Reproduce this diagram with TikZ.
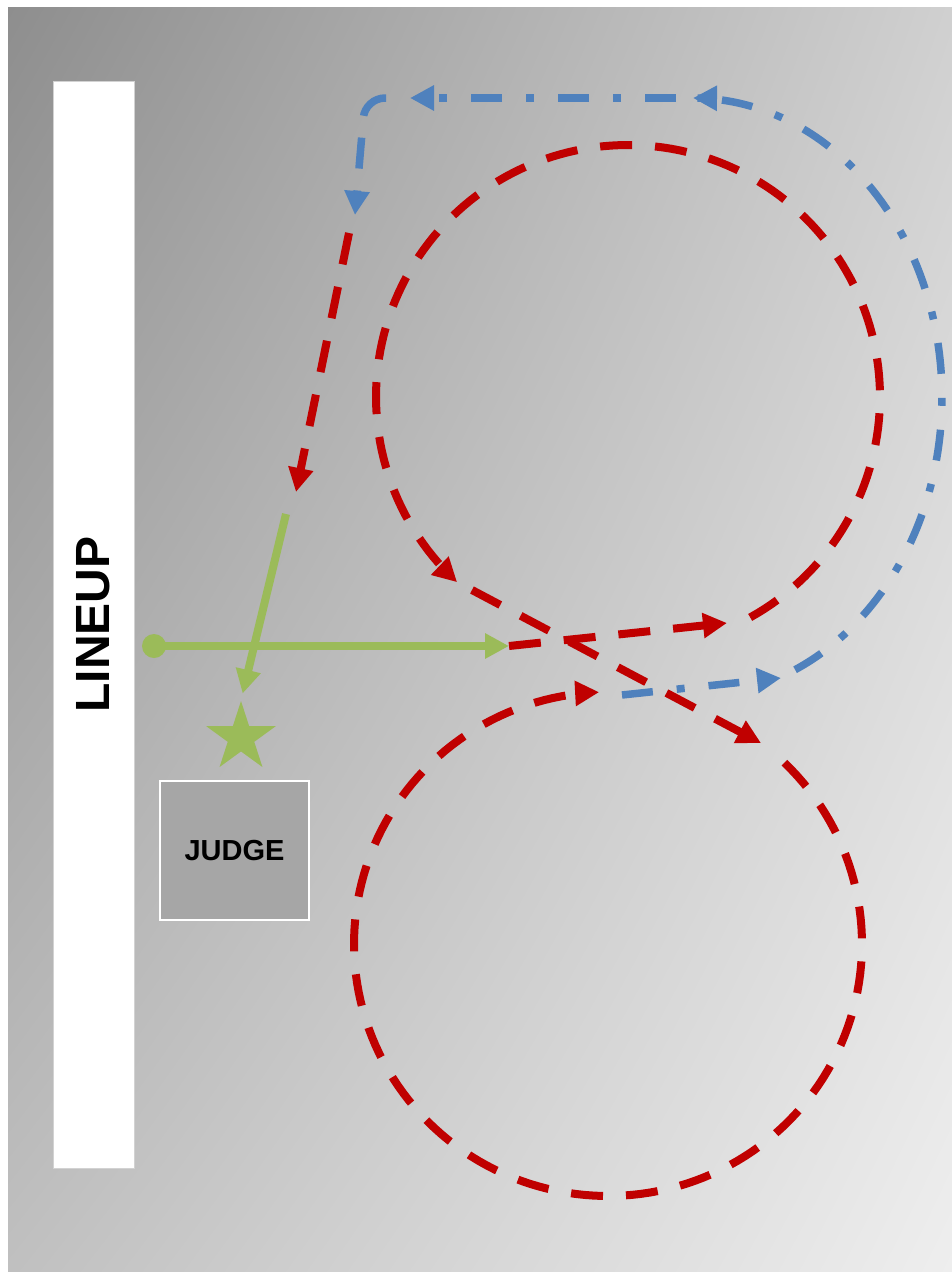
\documentclass[tikz,border=0pt]{standalone}
\usepackage{fontspec}
\setmainfont{Liberation Sans}
\usepackage{tikz}
\usetikzlibrary{arrows.meta,shapes.geometric,shadings}

\definecolor{pathred}{HTML}{C00000}
\definecolor{pathblue}{HTML}{4F81BD}
\definecolor{pathgreen}{HTML}{9BBB59}
\definecolor{judgegray}{HTML}{A6A6A6}
\definecolor{floortl}{HTML}{8E8E8E}
\definecolor{floortr}{HTML}{D0D0D0}
\definecolor{floorbl}{HTML}{C0C0C0}
\definecolor{floorbr}{HTML}{EEEEEE}

\begin{document}
\begin{tikzpicture}[x=1pt,y=-1pt,
		flowtip/.style={-{Triangle[length=24pt,width=24pt]}},
		redline/.style={flowtip,draw=pathred,line width=8pt,dash pattern=on 32pt off 23pt},
		blueline/.style={flowtip,draw=pathblue,line width=7.5pt,dash pattern=on 31pt off 24pt on 8pt off 24pt},
		greenline/.style={flowtip,draw=pathgreen,line width=8pt}]
					%\draw [help lines] (0,0) grid (952,1272);
					\useasboundingbox[fill=white] (0,0) rectangle (952,1272);
					\shade[upper left=floortl,upper right=floortr,lower left=floorbl,lower right=floorbr] (8,7) rectangle (952,1272);
					\node[draw=gray!35,fill=white,line width=1pt,minimum width=1087pt,minimum height=81pt,rotate=90,font=\bfseries\fontsize{48}{48}\selectfont] (lineup) at (93.5,624.5) {LINEUP};
					\node[draw=white,fill=judgegray,line width=2pt,minimum width=149pt,minimum height=139pt,font=\bfseries\fontsize{29}{29}\selectfont] (judge) at (234.5,850.5) {JUDGE};
					\node[star,star points=5,star point ratio=2.618,fill=pathgreen,minimum size=73pt,inner sep=0pt] (spot) at (241,737.5) {};
					\node[circle,fill=pathgreen,minimum size=24pt,inner sep=0pt] (entry) at (154,646) {};
					%Punti
					\coordinate (cross) at (509,646);
					\coordinate (loopin) at (727,623);
					\coordinate (loopout) at (472,590);
					\coordinate (diag) at (761,743);
					\coordinate (back) at (622,695);
					\coordinate (backtip) at (781,678);
					\coordinate (topright) at (693,98);
					\coordinate (topleft) at (410,98);
					\coordinate (corner) at (386,98);
					\coordinate (bend) at (365,98);
					\coordinate (downtip) at (355,215);
					\coordinate (redtop) at (349,233);
					\coordinate (redtip) at (296,492);
					\coordinate (turn) at (286,514);
					%Verde
					\draw[greenline] (entry.center) -- (cross);
					\draw[greenline,shorten >=7pt] (turn) -- (spot.north);
					%Rosso
					\draw[redline] (cross) -- (loopin);
					\draw[redline] plot[domain=-61:227.3,samples=150] ({628+252*cos(\x)},{397-252*sin(\x)});
					\draw[redline] (loopout) -- (diag);
					\draw[redline] plot[domain=-46:268,samples=150] ({608+254*cos(\x)},{944+252*sin(\x)});
					\draw[redline] (redtop) -- (redtip);
					%Blu
					\draw[blueline] (back) -- (backtip);
					\draw[blueline] plot[domain=-65.8:90,samples=150] ({693+249*cos(\x)},{397-299*sin(\x)});
					\draw[blueline,dash phase=70pt] (topright) -- (topleft);
					\draw[blueline,dash pattern=on 31pt off 22pt,rounded corners=20pt] (corner) -- (bend) -- (downtip);
		\end{tikzpicture}
\end{document}
